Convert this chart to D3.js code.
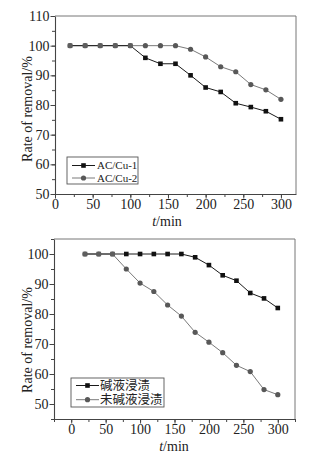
<!DOCTYPE html>
<html>
<head>
<meta charset="utf-8">
<script src="https://cdn.jsdelivr.net/npm/d3@7"></script>
<style>
  html, body { margin: 0; padding: 0; background: #fff; }
  svg { display: block; }
  text { font-family: "Liberation Serif", "Times New Roman", serif; fill: #222; }
</style>
</head>
<body>
<svg id="chart" width="326" height="460"></svg>
<script>
// ---- Data ----
const times = [20, 40, 60, 80, 100, 120, 140, 160, 180, 200, 220, 240, 260, 280, 300];

// Top chart
const topSeriesNames = ["AC/Cu-1", "AC/Cu-2"];
const acCu1 = [100, 100, 100, 100, 100, 95.9, 93.9, 93.9, 90.0, 85.9, 84.4, 80.6, 79.3, 77.9, 75.2];
const acCu2 = [100, 100, 100, 100, 100, 100, 100, 100, 98.8, 96.2, 92.9, 91.2, 86.9, 85.1, 81.9];
const topYTicks = [50, 60, 70, 80, 90, 100, 110];
const topXTicks = [0, 50, 100, 150, 200, 250, 300];

// Bottom chart
const bottomSeriesNames = ["碱液浸渍", "未碱液浸渍"];
const alkali = [100, 100, 100, 100, 100, 100, 100, 100, 98.9, 96.3, 92.9, 91.1, 87.0, 85.2, 82.0];
const noAlkali = [100, 100, 100, 95.0, 90.3, 87.5, 83.0, 79.3, 73.9, 70.6, 67.1, 62.9, 60.8, 54.8, 53.1];
const bottomYTicks = [50, 60, 70, 80, 90, 100];
const bottomXTicks = [0, 50, 100, 150, 200, 250, 300];

const xTitle = "min";
const yTitle = "Rate of removal/%";

const svg = d3.select("#chart");

function drawPanel(cfg) {
  const g = svg.append("g");
  const x = d3.scaleLinear().domain(cfg.xDomain).range([cfg.left, cfg.right]);
  const y = d3.scaleLinear().domain(cfg.yDomain).range([cfg.bottom, cfg.top]);

  // frame top & right
  g.append("line").attr("x1", cfg.left).attr("x2", cfg.right).attr("y1", cfg.top).attr("y2", cfg.top)
    .attr("stroke", "#777").attr("stroke-width", 1);
  g.append("line").attr("x1", cfg.right).attr("x2", cfg.right).attr("y1", cfg.top).attr("y2", cfg.bottom)
    .attr("stroke", "#777").attr("stroke-width", 1);

  // minor ticks
  const xMinor = d3.range(cfg.xDomain[0], cfg.xDomain[1] + 0.001, 25);
  const yMinor = d3.range(cfg.yDomain[0], cfg.yDomain[1] + 0.001, 5);
  g.append("g").attr("transform", `translate(0,${cfg.bottom})`)
    .call(d3.axisBottom(x).tickValues(xMinor).tickSize(3).tickFormat(""))
    .call(s => s.select(".domain").remove())
    .call(s => s.selectAll("line").attr("stroke", "#444"));
  g.append("g").attr("transform", `translate(${cfg.left},0)`)
    .call(d3.axisLeft(y).tickValues(yMinor).tickSize(3).tickFormat(""))
    .call(s => s.select(".domain").remove())
    .call(s => s.selectAll("line").attr("stroke", "#444"));

  // major axes
  const xa = g.append("g").attr("transform", `translate(0,${cfg.bottom})`)
    .call(d3.axisBottom(x).tickValues(cfg.xTicks).tickSize(4.5).tickPadding(1).tickSizeOuter(0));
  const ya = g.append("g").attr("transform", `translate(${cfg.left},0)`)
    .call(d3.axisLeft(y).tickValues(cfg.yTicks).tickSize(4.5).tickPadding(1).tickSizeOuter(0));
  [xa, ya].forEach(a => {
    a.select(".domain").attr("stroke", "#444").attr("stroke-width", 1.1);
    a.selectAll(".tick line").attr("stroke", "#444");
    a.selectAll(".tick text").attr("font-family", "Liberation Serif, serif").attr("font-size", 14).attr("fill", "#222");
  });

  // axis titles
  const xt = g.append("text").attr("x", (cfg.xTitleX)).attr("y", cfg.xTitleY)
    .attr("text-anchor", "middle").attr("font-size", 14);
  xt.append("tspan").attr("font-style", "italic").text("t");
  xt.append("tspan").text("/" + xTitle);
  g.append("text").attr("transform", `translate(${cfg.yTitleX},${cfg.yTitleY}) rotate(-90)`)
    .attr("text-anchor", "middle").attr("font-size", 14).text(yTitle);

  // series
  const s1 = cfg.s1, s2 = cfg.s2;
  const line = d3.line().x((d, i) => x(times[i])).y(d => y(d));
  g.append("path").datum(s2).attr("d", line).attr("fill", "none").attr("stroke", "#7a7a7a").attr("stroke-width", 1);
  g.append("path").datum(s1).attr("d", line).attr("fill", "none").attr("stroke", "#1a1a1a").attr("stroke-width", 1);

  g.selectAll(".c").data(s2).enter().append("circle")
    .attr("cx", (d, i) => x(times[i])).attr("cy", d => y(d)).attr("r", 2.6).attr("fill", "#585858");
  const sq = 4.6;
  g.selectAll(".s").data(s1).enter().append("rect")
    .attr("x", (d, i) => x(times[i]) - sq / 2).attr("y", d => y(d) - sq / 2)
    .attr("width", sq).attr("height", sq)
    .attr("fill", (d, i) => (Math.abs(d - s2[i]) < 0.01 ? "#5e5e5e" : "#111"));

  // legend
  const L = cfg.legend;
  g.append("rect").attr("x", L.x).attr("y", L.y).attr("width", L.w).attr("height", L.h)
    .attr("fill", "#fff").attr("stroke", "#555").attr("stroke-width", 0.9);
  const rows = [
    { name: cfg.names[0], color: "#1a1a1a", mark: "sq", fill: "#111" },
    { name: cfg.names[1], color: "#7a7a7a", mark: "c", fill: "#585858" }
  ];
  rows.forEach((r, k) => {
    const cy = L.rowY[k];
    g.append("line").attr("x1", L.x + 5).attr("x2", L.x + 28).attr("y1", cy).attr("y2", cy)
      .attr("stroke", r.color).attr("stroke-width", 1);
    if (r.mark === "sq") {
      g.append("rect").attr("x", L.x + 16.5 - sq / 2).attr("y", cy - sq / 2).attr("width", sq).attr("height", sq).attr("fill", r.fill);
    } else {
      g.append("circle").attr("cx", L.x + 16.5).attr("cy", cy).attr("r", 2.6).attr("fill", r.fill);
    }
    g.append("text").attr("x", L.x + L.textDx).attr("y", cy).attr("dy", "0.36em")
      .attr("font-size", L.fs).style("font-family", L.font).text(r.name);
  });
}

drawPanel({
  left: 55, right: 296, top: 16, bottom: 194,
  xDomain: [0, 320], yDomain: [50, 110],
  xTicks: topXTicks, yTicks: topYTicks,
  xTitleX: 167, xTitleY: 226, yTitleX: 32, yTitleY: 109,
  s1: acCu1, s2: acCu2, names: topSeriesNames,
  legend: { x: 67, y: 157, w: 71, h: 27, rowY: [165.5, 178], textDx: 30, fs: 11, font: "'Liberation Serif', serif" }
});

drawPanel({
  left: 54, right: 295, top: 239, bottom: 419,
  xDomain: [-25, 325], yDomain: [45, 105],
  xTicks: bottomXTicks, yTicks: bottomYTicks,
  xTitleX: 174, xTitleY: 450.5, yTitleX: 32, yTitleY: 340,
  s1: alkali, s2: noAlkali, names: bottomSeriesNames,
  legend: { x: 71, y: 378, w: 93, h: 29, rowY: [385.5, 399.7], textDx: 29, fs: 12.5, font: "'Liberation Serif', 'Noto Sans CJK SC', serif" }
});
</script>
</body>
</html>
